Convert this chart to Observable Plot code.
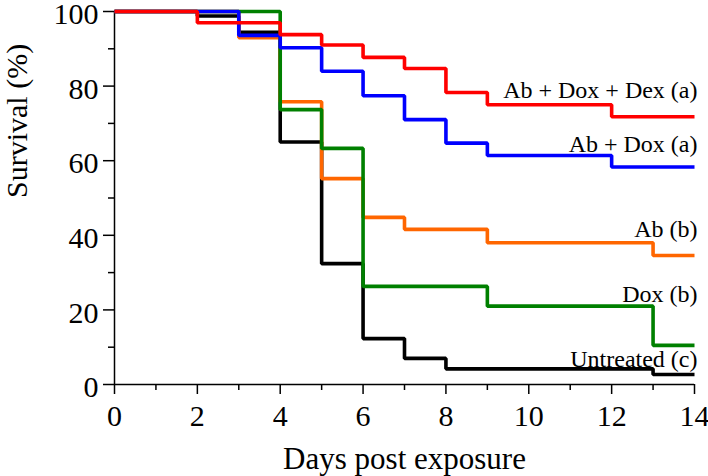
<!DOCTYPE html>
<html><head><meta charset="utf-8">
<script src="https://cdn.jsdelivr.net/npm/d3@7"></script>
<script src="https://cdn.jsdelivr.net/npm/@observablehq/plot@0.6"></script>
<style>body{margin:0;background:#fff}</style>
</head><body><div id="chart"></div>
<script>
// Kaplan–Meier style survival data (day of change, survival % from that day on)
const untreatedDays = [0, 2, 3, 4, 5, 6, 7, 8, 13, 14];
const untreatedSurv = [100, 98.8, 94.4, 65, 32.4, 12.3, 7, 4.2, 2.7, 2.7];
const abDays = [0, 3, 4, 5, 6, 7, 9, 13, 14];
const abSurv = [100, 93, 75.8, 55.2, 44.8, 41.6, 38, 34.6, 34.6];
const doxDays = [0, 4, 5, 6, 9, 13, 14];
const doxSurv = [100, 73.7, 63.3, 26.3, 21, 10.5, 10.5];
const abDoxDays = [0, 3, 4, 5, 6, 7, 8, 9, 12, 14];
const abDoxSurv = [100, 93.6, 90.3, 84, 77.4, 71, 64.7, 61.4, 58.3, 58.3];
const abDoxDexDays = [0, 2, 4, 5, 6, 7, 8, 9, 12, 14];
const abDoxDexSurv = [100, 97, 93.8, 91, 87.7, 84.7, 78.3, 75, 71.8, 71.8];

const seriesNames = ["Untreated (c)", "Ab (b)", "Dox (b)", "Ab + Dox (a)", "Ab + Dox + Dex (a)"];
const seriesColors = ["#000000", "#ff6600", "#008000", "#0000ff", "#ff0000"];
const labelY = [4.6, 39.5, 22.1, 62.3, 76.7];

const xTicks = [0, 2, 4, 6, 8, 10, 12, 14];
const xMinor = [1, 3, 5, 7, 9, 11, 13];
const yTicks = [0, 20, 40, 60, 80, 100];
const yMinor = [10, 30, 50, 70, 90];

const seriesDays = [untreatedDays, abDays, doxDays, abDoxDays, abDoxDexDays];
const seriesSurv = [untreatedSurv, abSurv, doxSurv, abDoxSurv, abDoxDexSurv];

const rows = seriesNames.map((name, i) =>
  seriesDays[i].map((d, j) => ({series: name, day: d, surv: seriesSurv[i][j]})));
const labels = seriesNames.map((name, i) => ({name, y: labelY[i]}));

const FONT = "Liberation Serif";

const lineMarks = rows.map((r, i) => Plot.line(r, {
  x: "day", y: "surv", curve: "step-after",
  stroke: seriesColors[i], strokeWidth: 3.6,
  strokeLinejoin: "miter", strokeLinecap: "butt"
}));

const chart = Plot.plot({
  width: 708, height: 476,
  marginLeft: 114, marginRight: 14, marginTop: 11, marginBottom: 92,
  x: {domain: [0, 14]},
  y: {domain: [0, 100]},
  style: "background: white; color: black; font-family: 'Liberation Serif';",
  marks: [
    Plot.axisX(xTicks, {tickSize: 10, tickPadding: 10, fontSize: 30, label: null, strokeWidth: 1.5}),
    Plot.axisX(xMinor, {tickSize: 6, tickFormat: () => "", label: null, strokeWidth: 1.5}),
    Plot.axisY(yTicks, {tickSize: 11, tickFormat: () => "", label: null, strokeWidth: 1.5}),
    Plot.axisY(yMinor, {tickSize: 6, tickFormat: () => "", label: null, strokeWidth: 1.5}),
    Plot.text(yTicks, {frameAnchor: "left", y: d => d, text: d => String(d), textAnchor: "end", dx: -16, dy: 3, fontSize: 30, fill: "black"}),
    Plot.ruleX([0], {strokeWidth: 1.5}),
    Plot.ruleY([0], {strokeWidth: 1.5}),
    ...lineMarks,
    Plot.text(labels, {x: () => 14, y: "y", text: "name", textAnchor: "end", lineAnchor: "bottom", dx: 3, fontSize: 24, fill: "black"}),
    Plot.text(["Survival (%)"], {text: d => d, frameAnchor: "left", rotate: -90, dx: -109, lineAnchor: "top", fontSize: 30, fill: "black"}),
    Plot.text(["Days post exposure"], {text: d => d, frameAnchor: "bottom", dy: 84, lineAnchor: "bottom", fontSize: 31, fill: "black"})
  ]
});
d3.select(chart).attr("font-family", FONT);
d3.select(chart).selectAll("g, text").attr("font-family", FONT).style("font-family", "'Liberation Serif'");
document.getElementById("chart").appendChild(chart);
</script>
</body></html>
